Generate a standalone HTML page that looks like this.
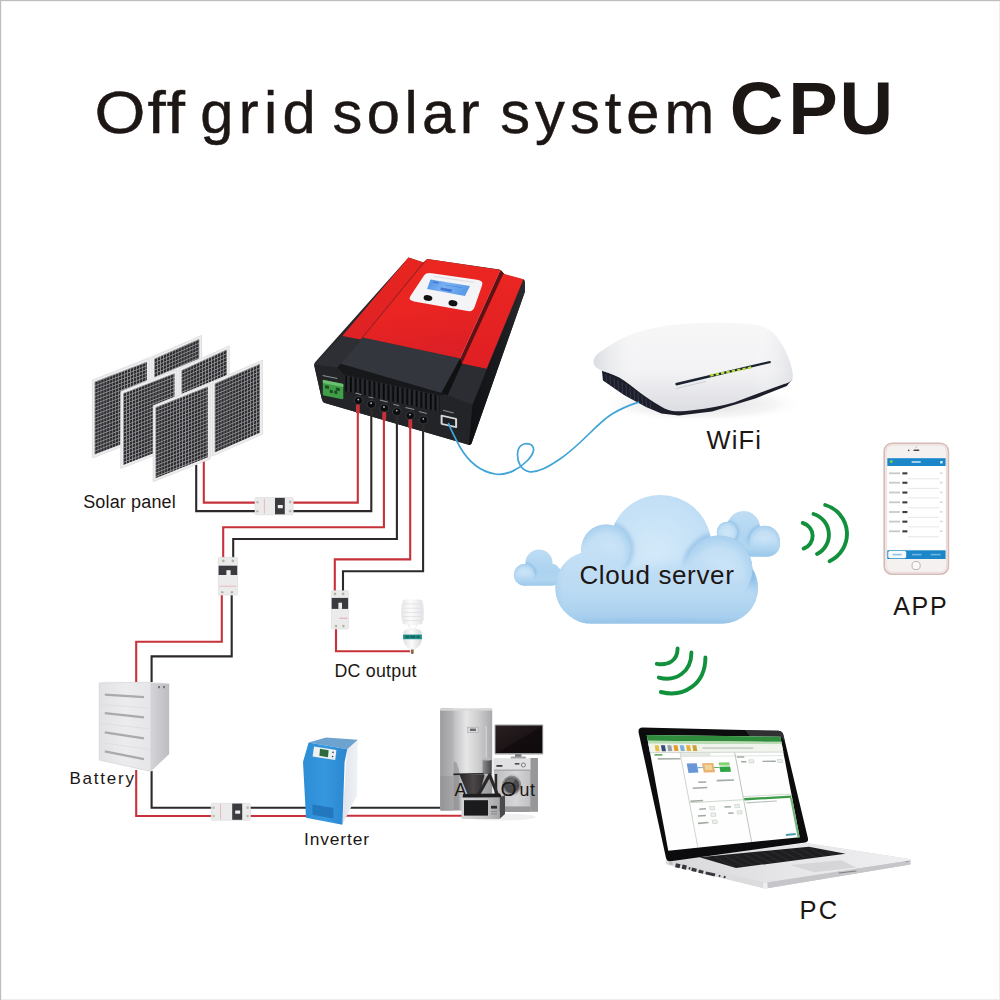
<!DOCTYPE html>
<html><head><meta charset="utf-8">
<style>
html,body{margin:0;padding:0;background:#fff;}
body{width:1000px;height:1000px;overflow:hidden;position:relative;font-family:"Liberation Sans",sans-serif;}
svg{position:absolute;left:0;top:0;display:block;}
text{font-family:"Liberation Sans",sans-serif;fill:#1c1614;}
</style></head><body>
<svg width="1000" height="1000" viewBox="0 0 1000 1000">
<defs>

<linearGradient id="gSide" x1="0" y1="0" x2="1" y2="0"><stop offset="0" stop-color="#0f1012"/><stop offset=".6" stop-color="#1b1c1f"/><stop offset="1" stop-color="#2a2b2e"/></linearGradient>
<linearGradient id="gRedL" x1="0" y1="0" x2="0" y2="1"><stop offset="0" stop-color="#e8251f"/><stop offset="1" stop-color="#de2226"/></linearGradient>
<linearGradient id="gRedC" x1="0" y1="0" x2="0.2" y2="1"><stop offset="0" stop-color="#ec2720"/><stop offset=".6" stop-color="#e92422"/><stop offset="1" stop-color="#dc2026"/></linearGradient>
<linearGradient id="gRedR" x1="0" y1="0" x2="0" y2="1"><stop offset="0" stop-color="#ea2622"/><stop offset="1" stop-color="#e01f24"/></linearGradient>
<linearGradient id="gLcd" x1="0" y1="0" x2="1" y2="0.3"><stop offset="0" stop-color="#4f8fe6"/><stop offset=".5" stop-color="#7cb2f2"/><stop offset="1" stop-color="#5c9bea"/></linearGradient>
<pattern id="pVent" x="0" y="0" width="4.7" height="20" patternUnits="userSpaceOnUse"><rect x="1.6" y="0" width="2" height="20" rx=".8" fill="#08080a"/></pattern>

<pattern id="pCell" x="2.4" y="2.6" width="2.95" height="3.62" patternUnits="userSpaceOnUse"><rect x="0" y="0" width="2.95" height="3.62" fill="#2c2c2f"/><rect x="0" y="0" width="2.95" height=".85" fill="#97979b"/><rect x="0" y="0" width=".64" height="3.62" fill="#97979b"/></pattern>
<linearGradient id="gBatFront" x1="0" y1="0" x2="1" y2="0"><stop offset="0" stop-color="#e2e2e5"/><stop offset=".5" stop-color="#ececee"/><stop offset="1" stop-color="#e6e6e9"/></linearGradient>
<linearGradient id="gBatSide" x1="0" y1="0" x2="1" y2="0"><stop offset="0" stop-color="#d4d4d8"/><stop offset="1" stop-color="#bcbcc1"/></linearGradient>
<linearGradient id="gInvFront" x1="0" y1="0" x2="1" y2="0"><stop offset="0" stop-color="#2d8dd6"/><stop offset=".5" stop-color="#3597de"/><stop offset="1" stop-color="#2a86cf"/></linearGradient>
<linearGradient id="gInvSide" x1="0" y1="0" x2="1" y2="0"><stop offset="0" stop-color="#dfe3ea"/><stop offset="1" stop-color="#f0f2f6"/></linearGradient>
<linearGradient id="gBulbBase" x1="0" y1="0" x2="1" y2="0"><stop offset="0" stop-color="#dfe1e3"/><stop offset=".45" stop-color="#fbfbfb"/><stop offset="1" stop-color="#d7d9dc"/></linearGradient>
<linearGradient id="gBulbCoil" x1="0" y1="0" x2="1" y2="0"><stop offset="0" stop-color="#e6e7e9"/><stop offset=".4" stop-color="#fcfcfc"/><stop offset="1" stop-color="#e2e3e6"/></linearGradient>
<linearGradient id="gFridge" x1="0" y1="0" x2="1" y2="0"><stop offset="0" stop-color="#b9b9bb"/><stop offset=".26" stop-color="#bfbfc1"/><stop offset=".5" stop-color="#e6e6e7"/><stop offset=".72" stop-color="#cfcfd1"/><stop offset="1" stop-color="#a9a9ab"/></linearGradient>
<linearGradient id="gFridgeSide" x1="0" y1="0" x2="1" y2="0"><stop offset="0" stop-color="#9c9c9e"/><stop offset="1" stop-color="#b6b6b8"/></linearGradient>
<linearGradient id="gWash" x1="0" y1="0" x2="1" y2="0"><stop offset="0" stop-color="#bdbdc0"/><stop offset=".5" stop-color="#d6d6d8"/><stop offset="1" stop-color="#b5b5b8"/></linearGradient>
<linearGradient id="gTv" x1="0" y1="0" x2="1" y2="1"><stop offset="0" stop-color="#2a2022"/><stop offset=".5" stop-color="#1c1416"/><stop offset=".52" stop-color="#130d0f"/><stop offset="1" stop-color="#0f0a0c"/></linearGradient>
<linearGradient id="gPot" x1="0" y1="0" x2="1" y2="0"><stop offset="0" stop-color="#8d8d90"/><stop offset=".5" stop-color="#6a6a6d"/><stop offset="1" stop-color="#47474a"/></linearGradient>
<linearGradient id="gMicro" x1="0" y1="0" x2="1" y2="0"><stop offset="0" stop-color="#d4d4d6"/><stop offset=".6" stop-color="#c2c2c5"/><stop offset="1" stop-color="#a6a6a9"/></linearGradient>
<radialGradient id="gRShadow" cx=".5" cy=".5" r=".5"><stop offset="0" stop-color="#c9c9cc" stop-opacity=".7"/><stop offset=".7" stop-color="#e6e6e8" stop-opacity=".4"/><stop offset="1" stop-color="#ffffff" stop-opacity="0"/></radialGradient>
<linearGradient id="gRouter" x1="0" y1="0" x2="0" y2="1"><stop offset="0" stop-color="#f7f7f8"/><stop offset=".55" stop-color="#f2f2f4"/><stop offset="1" stop-color="#dcdde2"/></linearGradient>
<linearGradient id="gRouter2" x1="0" y1="0" x2="1" y2="0"><stop offset="0" stop-color="#d5d7dd" stop-opacity=".8"/><stop offset=".25" stop-color="#ffffff" stop-opacity="0"/><stop offset=".8" stop-color="#ffffff" stop-opacity="0"/><stop offset="1" stop-color="#d9dbe0" stop-opacity=".7"/></linearGradient>
<radialGradient id="gCloud" gradientUnits="userSpaceOnUse" cx="655" cy="552" r="105"><stop offset="0" stop-color="#d3e9f9"/><stop offset=".5" stop-color="#c3e0f6"/><stop offset="1" stop-color="#9cc9ec"/></radialGradient>
<linearGradient id="gCloudS" x1="0" y1="0" x2="0" y2="1"><stop offset="0" stop-color="#c6e1f6"/><stop offset="1" stop-color="#9ccaec"/></linearGradient>
<linearGradient id="gFridgeLow" x1="0" y1="0" x2="1" y2="0"><stop offset="0" stop-color="#8e8e90" stop-opacity=".55"/><stop offset=".4" stop-color="#9a9a9c" stop-opacity=".45"/><stop offset="1" stop-color="#8a8a8c" stop-opacity=".5"/></linearGradient>
<linearGradient id="gHood" x1="0" y1="0" x2="1" y2="0"><stop offset="0" stop-color="#2a2728"/><stop offset=".55" stop-color="#4b4748"/><stop offset="1" stop-color="#2e2b2c"/></linearGradient>
<linearGradient id="gLapTop" x1="0" y1="0" x2="1" y2="0"><stop offset="0" stop-color="#d8d8db"/><stop offset=".5" stop-color="#e6e6e8"/><stop offset="1" stop-color="#efeff1"/></linearGradient>
<pattern id="pKeys" x="0" y="0" width="5.2" height="40" patternUnits="userSpaceOnUse" patternTransform="rotate(-62)"><rect x="0" y="0" width=".9" height="40" fill="#6a6a6f"/></pattern>
<filter id="fBlur2" x="-20%" y="-20%" width="140%" height="140%"><feGaussianBlur stdDeviation="1.4"/></filter>
<filter id="fBlur3" x="-20%" y="-20%" width="140%" height="140%"><feGaussianBlur stdDeviation="2.4"/></filter>
<filter id="fBlur5" x="-20%" y="-20%" width="140%" height="140%"><feGaussianBlur stdDeviation="5"/></filter>
<radialGradient id="gBump" cx=".5" cy=".55" r=".55"><stop offset="0" stop-color="#cfe6f8"/><stop offset=".65" stop-color="#c2dff5"/><stop offset="1" stop-color="#a8d0ef"/></radialGradient>
<linearGradient id="gCloudBase" x1="0" y1="0" x2="0" y2="1"><stop offset="0" stop-color="#c6e1f6"/><stop offset=".6" stop-color="#b9daf3"/><stop offset="1" stop-color="#9cc8eb"/></linearGradient>
<linearGradient id="gCloudSB" x1="0" y1="0" x2="0" y2="1"><stop offset="0" stop-color="#b9daf3" stop-opacity="0"/><stop offset=".5" stop-color="#b0d5f1"/><stop offset="1" stop-color="#97c5e9"/></linearGradient>
<clipPath id="cpCloud"><circle cx="660.5" cy="546" r="51"/><circle cx="606" cy="549" r="24.6"/><circle cx="719" cy="569" r="33.4"/><circle cx="591" cy="587.4" r="35.6"/><rect x="556" y="552" width="202" height="71.6" rx="35.8"/></clipPath>
<clipPath id="cpCloudR"><circle cx="743.4" cy="527.6" r="16.6"/><circle cx="764.6" cy="541" r="15.2"/><circle cx="727" cy="532" r="10.2"/><rect x="716.6" y="531" width="63.4" height="25.4" rx="12.7"/></clipPath>
<clipPath id="cpCloudL"><circle cx="539" cy="563.2" r="13.6"/><circle cx="524.4" cy="574.4" r="10.4"/><circle cx="552" cy="572" r="8"/><rect x="514" y="565" width="48" height="20.4" rx="10.2"/></clipPath>
</defs>
<rect x="0" y="0" width="1000" height="1000" fill="#ffffff"/>
<rect x="999" y="0" width="1" height="1000" fill="#ececec"/>
<rect x="0" y="999" width="1000" height="1" fill="#ececec"/>
<rect x="0" y="0" width="1000" height="1" fill="#bebebe"/>
<rect x="0" y="0" width="1" height="1000" fill="#bebebe"/>
<rect x="1" y="1" width="999" height=".5" fill="#e6e6e6"/>
<rect x="1" y="1" width=".5" height="999" fill="#e6e6e6"/>
<!-- TITLE -->
<g id="title">
<text transform="translate(0 132.5) scale(1.1 1)" x="85.8 134.2 151.6" y="0" font-size="59.6" fill="#1a1310" stroke="#1a1310" stroke-width=".45">Off</text>
<text y="132.5" font-size="59.6" fill="#1a1310" stroke="#1a1310" stroke-width=".45"><tspan x="200.2" letter-spacing="5.4">grid</tspan><tspan x="332.6" letter-spacing="4.45">solar</tspan><tspan x="500.2" letter-spacing="5.05">system</tspan></text>
<text y="134" font-size="74.2" font-weight="bold" fill="#1a1310"><tspan x="729.8">C</tspan><tspan x="788.2">P</tspan><tspan x="839.4">U</tspan></text>
</g>
<!-- CONTROLLER -->
<g id="controller">
<!-- silhouette / body black -->
<path d="M408.5 257.6 L423.5 262.6 L427.2 259 L499.5 269.6 L504.8 274.6 L523.8 279.4 Q525.6 281 524.8 292 L471.5 443.5 Q470.5 445.6 467.5 444.4 L325 403 Q322.3 402 321.8 399 L314.2 366 Q313.8 363.5 315.5 361.8 Z" fill="#26282c"/>
<!-- right side face -->
<path d="M523.8 279.4 Q525.6 281 524.8 292 L471.5 443.5 Q470.5 445.6 468.6 444.7 L472.3 405 Z" fill="url(#gSide)"/>
<!-- front face -->
<path d="M314.2 364.5 L337.5 367.6 L343.5 373.5 L439.5 394.5 L445 394.6 L472.3 405 L468.8 444.7 L325 403 Q322.3 402 321.8 399 Z" fill="#222428"/>
<!-- left black top -->
<path d="M342.3 336 L360.6 339.6 L340.5 363.8 L337.5 367.6 L314.2 364.5 Z" fill="#2d2f34"/>
<!-- raised center black top -->
<path d="M362.8 337.4 L459.8 358.4 L441.3 393 L340.5 363.8 Z" fill="#33363c"/>
<!-- raised front lip -->
<path d="M340.5 363.8 L441.3 393 L445 394.6 L439.5 395.2 L343.5 374.2 L337.5 367.6 Z" fill="#17181a"/>
<!-- right strip black top -->
<path d="M462 363.4 L486.6 368.8 L472.6 404.4 L447.6 395.2 Z" fill="#2b2d32"/>
<path d="M460.4 358.6 L462 363.4 L447.6 395.2 L441.3 393 Z" fill="#101113"/>
<!-- vents -->
<g transform="matrix(1 0.21875 0 1 343.5 373.5)">
<rect x="1" y="1.2" width="95" height="16" fill="#2a2c30"/>
<rect x="1" y="1.2" width="95" height="16" fill="url(#pVent)"/>
</g>
<!-- red left -->
<path d="M408.5 257.6 L423.5 262.6 L360.6 339.6 L342.3 336 Z" fill="url(#gRedL)"/>
<!-- groove left -->
<path d="M423.5 262.6 L427.2 259 L362.8 337.4 L360.6 339.6 Z" fill="#b3161c"/>
<!-- red center -->
<path d="M427.2 259 L500.8 270 L460.4 358.6 L362.8 337.4 Z" fill="url(#gRedC)"/>
<path d="M500.4 270.4 L460.2 358.4" stroke="#f4585a" stroke-width=".9" fill="none" opacity=".8"/>
<!-- groove right -->
<path d="M500.8 270 L504.8 274.6 L462.3 365.8 L460.4 358.6 Z" fill="#5e1216"/>
<!-- red right strip -->
<path d="M503.4 273.8 L523.4 279.2 L486.6 368.8 L462 363.4 Z" fill="url(#gRedR)"/>
<!-- display -->
<path d="M432 273.3 L477 279.7 Q484 280.6 482 285.5 L474.6 307 Q473 312 467.5 311 L414 301.5 Q407.6 300.2 410.6 295.8 L424 275.6 Q426 272.4 432 273.3 Z" fill="#f4f4f6"/>
<path d="M430.5 279.5 L470 286 L465 296 L427 289 Z" fill="url(#gLcd)"/>
<g id="lcd-detail" fill="#2f62c4" opacity=".75"><path d="M433.6 281.4 L438.6 282.2 L438.2 283.6 L433.2 282.8 Z"/><path d="M441 287.6 L452 289.6 L451.4 292 L440.4 290 Z"/><path d="M445 284.4 L462 287.2 L461.8 288 L444.8 285.2 Z" opacity=".6"/></g>
<path d="M434 276.4 L474 282.4" stroke="#c9cbd2" stroke-width=".6" fill="none"/>
<ellipse cx="428" cy="298" rx="4.4" ry="2.9" fill="#121214" transform="rotate(8 428 298)"/>
<ellipse cx="453" cy="303.2" rx="4.5" ry="3.1" fill="#121214" transform="rotate(8 453 303)"/>
<!-- green terminal -->
<g transform="matrix(1 0.2 0 1 322.8 379.8)">
<rect x="0" y="0" width="20.5" height="15.5" rx="1" fill="#3f9f47"/>
<rect x="0" y="0" width="20.5" height="3.2" fill="#6cc070"/>
<rect x="2.2" y="5" width="4" height="3" fill="#1d4d22"/><rect x="13" y="5" width="4" height="3" fill="#1d4d22"/>
<rect x="7" y="8.5" width="3" height="3" fill="#1d4d22"/><rect x="11.5" y="8.5" width="3" height="3" fill="#1d4d22"/>
</g>
<!-- connectors -->
<g fill="#0d0d0f" stroke="#3a3c41" stroke-width="1">
<ellipse cx="358.5" cy="400.6" rx="4.4" ry="4"/><ellipse cx="371.3" cy="404.4" rx="4.4" ry="4"/>
<ellipse cx="384.2" cy="408.1" rx="4.4" ry="4"/><ellipse cx="396.9" cy="411.8" rx="4.4" ry="4"/>
<ellipse cx="410.2" cy="415.6" rx="4.4" ry="4"/><ellipse cx="423.5" cy="420" rx="4.4" ry="4"/>
</g>
<g id="conn-hl" fill="#b9bbc0"><circle cx="358.3" cy="399.6" r=".9"/><circle cx="371.1" cy="403.2" r=".9"/><circle cx="384" cy="407" r=".9"/><circle cx="396.7" cy="410.6" r=".9"/><circle cx="410" cy="414.6" r=".9"/><circle cx="423.3" cy="418.8" r=".9"/></g>
<!-- connector labels -->
<g fill="#8d8f94">
<rect x="355.5" y="393.2" width="6" height="1" transform="rotate(14 358 393)"/>
<rect x="368.5" y="397" width="5" height="1" transform="rotate(14 371 397)"/>
<rect x="380" y="400.5" width="8" height="1" transform="rotate(14 384 400)"/>
<rect x="393.5" y="404.4" width="6" height="1" transform="rotate(14 396 404)"/>
<rect x="405.5" y="408" width="9" height="1" transform="rotate(14 410 408)"/>
<rect x="419" y="412" width="8" height="1" transform="rotate(14 423 412)"/>
<rect x="443" y="411" width="11" height="1" transform="rotate(14 448 411)"/>
<rect x="322.5" y="376.5" width="15" height="1" transform="rotate(11 330 377)"/>
</g>
<!-- ethernet -->
<g transform="matrix(1 0.22 0 1 440.6 414.6)">
<rect x="0" y="0" width="16.5" height="10" rx="1" fill="#d6d8d8"/>
<rect x="2" y="1.8" width="12.5" height="6.4" fill="#1c1e22"/>
</g>
</g>
<!-- WIRES -->
<g id="wires" fill="none" stroke-width="2.1" stroke-linejoin="miter">
<g stroke="#c7323a">
<path d="M357.8 405 V502.6 H293"/>
<path d="M203.8 461 V502.6 H256"/>
<path d="M383.9 412 V527.3 H223.2 V558"/>
<path d="M221.8 594 V641.8 H136.2 V682"/>
<path d="M410.2 419 V559.4 H334.8 V592"/>
<path d="M336 628 V651.2 H410"/>
<path d="M136.2 770 V816 H212"/>
<path d="M250 816 H308"/>
<path d="M345.5 815.8 H462"/>
</g>
<g stroke="#2d292a">
<path d="M371.3 409 V511.1 H293"/>
<path d="M196.2 465 V511.1 H256"/>
<path d="M396.9 415 V539 H233.2 V558"/>
<path d="M231.7 594 V656.4 H151.6 V683"/>
<path d="M423.1 423 V571.2 H343 V592"/>
<path d="M151.6 771 V807.7 H212"/>
<path d="M250 807.7 H308"/>
<path d="M349.5 807.8 H444"/>
</g>
<g id="plugs" stroke="none">
<rect x="355.9" y="404.6" width="3.9" height="8.6" rx="1" fill="#c7323a"/><rect x="382.3" y="412" width="3.9" height="8.6" rx="1" fill="#c7323a"/><rect x="408.3" y="419.6" width="3.9" height="8.6" rx="1" fill="#c7323a"/>
<rect x="369.6" y="408.4" width="3.5" height="7" rx="1" fill="#2d292a"/><rect x="395.2" y="415.8" width="3.5" height="7" rx="1" fill="#2d292a"/><rect x="421.4" y="424" width="3.5" height="7" rx="1" fill="#2d292a"/>
</g>
</g>

<!-- BREAKERS -->
<g id="breakers">
<!-- horizontal breaker 1 -->
<g transform="translate(255,497.6)">
<rect x="0" y="0" width="38.2" height="17.2" rx="1.2" fill="#ebebec"/>
<rect x="0" y="0" width="38.2" height="17.2" rx="1.2" fill="none" stroke="#d9d9da" stroke-width=".6"/>
<rect x="20" y="0.3" width="9.8" height="16.4" fill="#3b3a3f"/>
<rect x="22.8" y="7.4" width="5" height="3.2" fill="#eeeeee"/>
<rect x="8.9" y="1" width=".7" height="15" fill="#e8a3a8"/>
<circle cx="2.4" cy="4.6" r="1.3" fill="#bdbcb4"/><circle cx="2.4" cy="13.6" r="1.3" fill="#bdbcb4"/>
<circle cx="35.2" cy="4.4" r="1.4" fill="#bdbcb4"/><circle cx="35.2" cy="13.6" r="1.4" fill="#bdbcb4"/>
</g>
<!-- horizontal breaker 4 -->
<g transform="translate(211.2,803.3)">
<rect x="0" y="0" width="39.2" height="17" rx="1.2" fill="#ebebec"/>
<rect x="0" y="0" width="39.2" height="17" rx="1.2" fill="none" stroke="#d9d9da" stroke-width=".6"/>
<rect x="21" y="0.3" width="10" height="16.2" fill="#3b3a3f"/>
<rect x="24" y="7.2" width="5" height="3.2" fill="#eeeeee"/>
<rect x="9" y="1" width=".7" height="15" fill="#e8a3a8"/>
<circle cx="2.4" cy="4.4" r="1.3" fill="#bdbcb4"/><circle cx="2.4" cy="12.8" r="1.3" fill="#bdbcb4"/>
<circle cx="36.4" cy="4.4" r="1.4" fill="#bdbcb4"/><circle cx="36.4" cy="12.8" r="1.4" fill="#bdbcb4"/>
</g>
<!-- vertical breaker 2 -->
<g transform="translate(218.3,557.3)">
<rect x="0" y="0" width="19.2" height="37.8" rx="1.2" fill="#ebebec"/>
<rect x="0" y="0" width="19.2" height="37.8" rx="1.2" fill="none" stroke="#d9d9da" stroke-width=".6"/>
<rect x="0.3" y="8.4" width="18.6" height="9.3" fill="#3b3a3f"/>
<rect x="8.1" y="12.9" width="4.2" height="4.8" fill="#eeeeee"/>
<rect x="1" y="28.5" width="17" height=".7" fill="#e8a3a8"/>
<circle cx="5" cy="3.6" r="1.4" fill="#b4b5a4"/><circle cx="14.6" cy="3.6" r="1.4" fill="#b4b5a4"/>
<circle cx="4" cy="35" r="1.3" fill="#b4b5a4"/><circle cx="13.6" cy="35" r="1.3" fill="#b4b5a4"/>
</g>
<!-- vertical breaker 3 -->
<g transform="translate(331.4,590.7)">
<rect x="0" y="0" width="17" height="38.3" rx="1.2" fill="#ebebec"/>
<rect x="0" y="0" width="17" height="38.3" rx="1.2" fill="none" stroke="#d9d9da" stroke-width=".6"/>
<rect x="0.3" y="7.2" width="16.4" height="11" fill="#3b3a3f"/>
<rect x="7" y="12" width="3.6" height="6.2" fill="#eeeeee"/>
<rect x="8" y="27" width="8" height="1" fill="#e8a3a8"/>
<circle cx="3.6" cy="3.2" r="1.3" fill="#b4b5a4"/><circle cx="11.8" cy="3.2" r="1.3" fill="#b4b5a4"/>
<circle cx="4.6" cy="35.4" r="1.3" fill="#b4b5a4"/><circle cx="12" cy="35.4" r="1.3" fill="#b4b5a4"/>
</g>
</g>

<!-- SOLAR PANELS -->
<g id="solar">
<path d="M92.3 380.1 L201.6 335.4 L201.6 414.29999999999995 L93.0 458.0 Z" fill="#f1f1f2"/>
<g transform="matrix(1 -0.3842 0 1 92.3 380.1)">
<rect x="0" y="0" width="57.0" height="77.9" fill="#ededee" stroke="#d6d6d8" stroke-width=".6"/>
<rect x="2.4" y="2.6" width="52.2" height="72.7" fill="url(#pCell)"/>
</g>
<g transform="matrix(1 -0.4398 0 1 151.8 357.3)">
<rect x="0" y="0" width="49.8" height="78.9" fill="#ededee" stroke="#d6d6d8" stroke-width=".6"/>
<rect x="2.4" y="2.6" width="45.0" height="73.7" fill="url(#pCell)"/>
</g>
<path d="M120.8 391.5 L229.2 345.9 L229.2 422.9 L120.2 468.5 Z" fill="#f1f1f2"/>
<g transform="matrix(1 -0.3904 0 1 120.8 391.5)">
<rect x="0" y="0" width="56.1" height="77.0" fill="#ededee" stroke="#d6d6d8" stroke-width=".6"/>
<rect x="2.4" y="2.6" width="51.3" height="71.8" fill="url(#pCell)"/>
</g>
<g transform="matrix(1 -0.4560 0 1 179.2 368.7)">
<rect x="0" y="0" width="50.0" height="77.0" fill="#ededee" stroke="#d6d6d8" stroke-width=".6"/>
<rect x="2.4" y="2.6" width="45.2" height="71.8" fill="url(#pCell)"/>
</g>
<path d="M153.2 405.7 L262.4 360.2 L262.4 434.3 L153.2 481.7 Z" fill="#f1f1f2"/>
<g transform="matrix(1 -0.3982 0 1 153.2 405.7)">
<rect x="0" y="0" width="57.0" height="76.0" fill="#ededee" stroke="#d6d6d8" stroke-width=".6"/>
<rect x="2.4" y="2.6" width="52.2" height="70.8" fill="url(#pCell)"/>
</g>
<g transform="matrix(1 -0.4360 0 1 212.4 382.0)">
<rect x="0" y="0" width="50.0" height="74.1" fill="#ededee" stroke="#d6d6d8" stroke-width=".6"/>
<rect x="2.4" y="2.6" width="45.2" height="68.9" fill="url(#pCell)"/>
</g>
</g>
<!-- BATTERY -->
<g id="battery">
<!-- side -->
<path d="M151 682.2 L169.2 683.6 L169.2 754 L151 771.4 Z" fill="url(#gBatSide)"/>
<!-- front -->
<path d="M99.2 683 L151 682.2 L151 771.4 L99.2 760 Z" fill="url(#gBatFront)"/>
<!-- top sliver -->
<path d="M99.2 683 L104 681.4 L168 682.6 L169.2 683.6 L151 682.9 Z" fill="#f4f4f5"/>
<path d="M99.2 683 L151 682.2 L151 771.4 L99.2 760 Z" fill="none" stroke="#cfcfd3" stroke-width=".6"/>
<!-- slots -->
<g stroke="#a9a9ae" stroke-width="2.2" stroke-linecap="butt">
<path d="M104.8 694.6 L144 697.2"/>
<path d="M104.8 713.2 L144 717.4"/>
<path d="M104.8 732.4 L144 738.4"/>
<path d="M104.8 751.4 L144 759.2"/>
</g>
<g stroke="#dcdce0" stroke-width=".8">
<path d="M101 704.5 L150 708.2"/><path d="M101 723.5 L150 728.8"/><path d="M101 742.6 L150 749.6"/>
</g>
<rect x="158" y="686" width="2" height="2.2" fill="#77777c"/><rect x="163" y="686" width="2" height="2.2" fill="#77777c"/>
</g>
<!-- INVERTER -->
<g id="inverter">
<!-- side white -->
<path d="M347 749 L357.8 740 L357 795.6 L342.2 824.8 Z" fill="url(#gInvSide)"/>
<!-- top -->
<path d="M308.6 742.6 L326 737.4 L357.8 739.8 L347.2 749.2 Z" fill="#6fa3cf"/>
<!-- front -->
<path d="M308.6 742.6 L347.2 749.2 L344.6 762 L342.4 824.8 L306 817.8 L303 762 Z" fill="url(#gInvFront)"/>
<!-- panel -->
<path d="M314 746.6 L336.4 750 L335.2 760 L312.6 756.4 Z" fill="#eef1f4"/>
<path d="M320 748.8 L328.6 750.2 L328 757.2 L319.4 755.8 Z" fill="#2c6b3c"/>
<circle cx="333" cy="752.4" r=".8" fill="#345"/><circle cx="332.6" cy="756.6" r=".8" fill="#345"/>
<!-- vent -->
<path d="M312.4 804.4 L333.4 808 L333.2 818.6 L312.6 814.8 Z" fill="#2377bd"/>
</g>
<!-- BULB -->
<g id="bulb">
<rect x="410.9" y="648.6" width="2.8" height="5.4" rx="1" fill="#8a6a48"/>
<path d="M403.2 634 Q403 629.6 408 629 L417 629 Q421.8 629.6 421.8 634 L421.8 640 Q421 646 414.6 649.6 L410.4 649.6 Q404 646 403.2 640 Z" fill="url(#gBulbBase)"/>
<path d="M403.1 634.6 L421.9 634.6 L421.9 639.2 L403.1 639.2 Z" fill="#1f9089"/>
<path d="M405.5 635.6 h3.5 v2.4 h-3.5z M410.2 635.6 h5 v2.4 h-5z M416.6 635.6 h3 v2.4 h-3z" fill="#116a63"/>
<path d="M407 623 L409.4 629.4 L416 629.4 L417.6 623 Z" fill="#ecedee"/>
<rect x="409.6" y="624.6" width="6" height="4" fill="#fff"/>
<g fill="url(#gBulbCoil)">
<rect x="402.6" y="599.6" width="20" height="5.2" rx="2.6"/>
<rect x="401.2" y="603.4" width="22.4" height="5.2" rx="2.6"/>
<rect x="401" y="607.6" width="22.8" height="5.2" rx="2.6"/>
<rect x="401" y="611.8" width="22.8" height="5.2" rx="2.6"/>
<rect x="401.4" y="616" width="22.4" height="5.2" rx="2.6"/>
<rect x="402.6" y="620" width="20" height="4.6" rx="2.3"/>
</g>
<g stroke="#dcdde0" stroke-width=".7">
<path d="M402 604 H423"/><path d="M401.6 608.2 H423.4"/><path d="M401.6 612.4 H423.4"/><path d="M401.6 616.6 H423.4"/><path d="M402.4 620.6 H423"/>
</g>
</g>
<!-- APPLIANCES -->
<g id="appliances">
<ellipse cx="500" cy="817" rx="36" ry="3.4" fill="#efeff0"/>
<!-- fridge -->
<rect x="440.2" y="708.6" width="52" height="102" rx="1.5" fill="url(#gFridge)"/>
<rect x="440.2" y="708.6" width="13.5" height="102" rx="1.5" fill="url(#gFridgeSide)"/>
<rect x="440.2" y="708.6" width="52" height="2" fill="#d9d9da"/>
<rect x="440.2" y="776" width="52" height="34.6" fill="url(#gFridgeLow)"/>
<path d="M453.7 762 Q456.4 759 459.4 772 L459.4 810 L453.7 810 Z" fill="#858587" opacity=".55"/>
<rect x="467.6" y="727.2" width="10.6" height="5.4" fill="#d8d8da" stroke="#9d9d9f" stroke-width=".5"/>
<rect x="470" y="728.6" width="6" height="2.4" fill="#6a6a6d"/>
<rect x="485.4" y="726" width="1.6" height="32" fill="#cfcfd1"/>
<!-- washing machine -->
<rect x="493.8" y="758.6" width="44.2" height="53.4" fill="url(#gWash)"/>
<rect x="530.4" y="758" width="7.6" height="53.4" fill="#97979a"/>
<rect x="493.8" y="758.6" width="36.6" height="11.4" fill="#e1e1e3"/>
<rect x="493.8" y="769.6" width="36.6" height="1" fill="#97979a"/>
<rect x="496.4" y="765" width="6" height="1.8" fill="#3c3c3e"/>
<rect x="514.8" y="763" width="4.6" height="1.6" fill="#4a4a4c"/>
<circle cx="523.4" cy="765" r="2" fill="#e9e9ea" stroke="#6d6d70" stroke-width=".9"/>
<rect x="493.8" y="806.4" width="36.6" height="5.6" fill="#98989b"/>
<circle cx="511.6" cy="785.2" r="11.4" fill="#cbcbce"/>
<circle cx="511.6" cy="785.2" r="9.6" fill="#8b8b8e"/>
<circle cx="511.6" cy="785.2" r="7.8" fill="#4a4a4d"/>
<path d="M505.4 781.6 A7.8 7.8 0 0 1 516 778.6 L511.6 785.2 Z" fill="#77777a" opacity=".7"/>
<!-- TV -->
<rect x="515" y="754" width="6.4" height="3" fill="#77777a"/>
<rect x="510.6" y="756.6" width="15.4" height="1.8" rx=".9" fill="#a4a4a7"/>
<rect x="494.6" y="724.6" width="48.6" height="29.8" rx="1" fill="#9a9a9d"/>
<rect x="495.6" y="725.6" width="46.6" height="27.4" fill="url(#gTv)"/>
<!-- pot -->
<path d="M482.6 759.4 Q487 757.6 491.6 759.4 L491.6 774 L482.6 774 Z" fill="url(#gPot)"/>
<ellipse cx="487.1" cy="759.2" rx="4.6" ry="1.3" fill="#b9b9bb"/>
<!-- text AC Out (partly hidden) -->
<text x="454.4" y="795.6" font-size="17.8" fill="#2a2526">A</text>
<text x="500.6" y="795.6" font-size="20.6" fill="#2a2526">O</text>
<text x="519.6" y="795.6" font-size="17.8" fill="#2a2526" letter-spacing=".6">ut</text>
<!-- stove / hood -->
<path d="M453.4 773.6 L483.4 773 L484 774.6 L453.4 775.2 Z" fill="#2a2728"/>
<path d="M459.6 775 L484.6 774.6 L479.6 794.4 L467.6 794.4 Z" fill="url(#gHood)"/>
<path d="M478.4 795 L489.6 775 L497.6 795" fill="none" stroke="#2b2829" stroke-width="3.2" stroke-linejoin="round"/>
<rect x="494.8" y="774" width="2.4" height="21" fill="#2b2829"/>
<path d="M463 794 L500 793.6 L502 797.6 L462.6 798.2 Z" fill="#1f1d1e"/>
<!-- microwave -->
<path d="M499.5 797.8 L505 795 L505 814 L499.5 819 Z" fill="#4a4a4d"/>
<rect x="461.5" y="797.6" width="38" height="21.4" rx=".8" fill="url(#gMicro)"/>
<rect x="464" y="800.2" width="24" height="15.4" fill="#1b1a1c"/>
<rect x="491" y="805.8" width="6" height="2.8" fill="#2b2a2c"/>
<rect x="491" y="811" width="6" height="1" fill="#8a8a8c"/><rect x="491" y="813.4" width="6" height="1" fill="#8a8a8c"/>
</g>
<!-- ROUTER -->
<g id="router">
<!-- soft shadow -->
<ellipse cx="702" cy="404" rx="104" ry="18" fill="url(#gRShadow)"/>
<!-- dark underside -->
<path d="M601.6 368 L603 380.6 L624 394.9 L646 407 L661.4 413.6 L679 415.4 L712 411.4 L756 398.2 L786.8 386.1 L792.4 379 L700 385 Z" fill="#1c1e2a"/>
<g stroke="#42455c" stroke-width=".7">
<path d="M606 374 L606.6 383"/><path d="M610 376 L610.6 385.8"/><path d="M614 378 L614.6 388.4"/><path d="M618 380 L618.6 391.2"/><path d="M622 382 L622.6 393.8"/><path d="M626 384 L626.6 396.4"/><path d="M630 387 L630.6 398.6"/><path d="M634 390 L634.6 400.6"/><path d="M638 393 L638.6 402.8"/><path d="M642 396 L642.6 405"/><path d="M646 399 L646.6 407.2"/><path d="M650 401.6 L650.6 409"/>
</g>
<!-- white top -->
<path d="M593.6 360.6 C595 355 598 353 602 350.7 C609 346 616 341.5 624 337.5 C632 333.5 641 330.7 650.4 328.7 C663 326 676 324.4 690 323.6 C700 323 710 322.7 720.8 322.8 C731 322.9 741 323.3 751.6 324.3 C757 324.9 762 326 767 328.7 C772 331.4 775 334.4 778 338.6 C781.5 343.5 784.5 348.5 786.8 354 C789.4 360 791.4 366 792.3 371.6 C793 376 793 378.6 791.2 380.4 C789.5 382 787.5 382.8 784.6 383.7 L734 402.4 C721 405.8 708 408.4 694.4 410 C688 410.8 681 411.4 674.6 411.2 C670 411 665.5 409.4 661.4 406.8 C656 403.6 651 400.4 646 396.9 C638.5 391.6 631.5 385.8 624 380.4 C618 376.4 611 373.8 604.2 371.6 C598 369.4 593 366.4 593.6 360.6 Z" fill="url(#gRouter)"/>
<path d="M593.6 360.6 C595 355 598 353 602 350.7 C609 346 616 341.5 624 337.5 C632 333.5 641 330.7 650.4 328.7 C663 326 676 324.4 690 323.6 C700 323 710 322.7 720.8 322.8 C731 322.9 741 323.3 751.6 324.3 C757 324.9 762 326 767 328.7 C772 331.4 775 334.4 778 338.6 C781.5 343.5 784.5 348.5 786.8 354 C789.4 360 791.4 366 792.3 371.6 C793 376 793 378.6 791.2 380.4 C789.5 382 787.5 382.8 784.6 383.7 L734 402.4 C721 405.8 708 408.4 694.4 410 C688 410.8 681 411.4 674.6 411.2 C670 411 665.5 409.4 661.4 406.8 C656 403.6 651 400.4 646 396.9 C638.5 391.6 631.5 385.8 624 380.4 C618 376.4 611 373.8 604.2 371.6 C598 369.4 593 366.4 593.6 360.6 Z" fill="url(#gRouter2)"/>
<!-- LED strip -->
<path d="M675.6 383 L769.6 361 Q771.4 361.2 770.6 363 L676.6 385.6 Q674.8 385 675.6 383 Z" fill="#1b2230"/>
<g fill="#b7dc3e" transform="translate(-1 2.5)">
<rect x="711" y="371.6" width="3.4" height="2.4" transform="rotate(-13 712 372)"/>
<rect x="716.4" y="370.5" width="3.4" height="2.4" transform="rotate(-13 718 371)"/>
<rect x="721.8" y="369.5" width="3.4" height="2.4" transform="rotate(-13 723 370)"/>
<rect x="727.2" y="368.4" width="3.4" height="2.4" transform="rotate(-13 729 369)"/>
<rect x="732.6" y="367.4" width="3.4" height="2.4" transform="rotate(-13 734 368)"/>
<rect x="738" y="366.3" width="3.4" height="2.4" transform="rotate(-13 740 367)"/>
<rect x="743.4" y="365.3" width="3.4" height="2.4" transform="rotate(-13 745 366)"/>
<rect x="748.8" y="364.2" width="3.4" height="2.4" transform="rotate(-13 750 365)"/>
</g>
<path d="M676 388.6 L706 381.4" stroke="#bfc3c9" stroke-width=".7"/>
</g>
<!-- BLUE CABLE -->
<path id="cable" d="M448.6 423.6 C452 432 455 438 460 447 C468 461 478 471 495 474 C508 476 520 468 527 461 C534 454 536 447 530 444.2 C524 442 518 446 517.6 453 C517 462 521 470 529 471.6 C538 473 548 467 560 459 C582 444 596 424 612 414 C622 408 630 405 638 402.4" fill="none" stroke="#3fa4d6" stroke-width="1.7" stroke-linecap="round"/>
<!-- CLOUD -->
<g id="cloud">
<!-- small right cloud -->
<g clip-path="url(#cpCloudR)">
<rect x="700" y="500" width="90" height="70" fill="url(#gCloudS)"/>
<circle cx="764.6" cy="541" r="15.6" fill="none" stroke="#86b9e3" stroke-width="2.4" filter="url(#fBlur2)"/>
<circle cx="764.6" cy="541" r="15.2" fill="url(#gBump)"/>
<circle cx="727" cy="532" r="10.6" fill="none" stroke="#86b9e3" stroke-width="2" filter="url(#fBlur2)"/>
<circle cx="727" cy="532" r="10.2" fill="url(#gBump)"/>
<rect x="716" y="538" width="64" height="20" fill="url(#gCloudSB)"/>
</g>
<!-- small left cloud -->
<g clip-path="url(#cpCloudL)">
<rect x="505" y="540" width="70" height="50" fill="url(#gCloudS)"/>
<circle cx="524.4" cy="574.4" r="10.8" fill="none" stroke="#86b9e3" stroke-width="2" filter="url(#fBlur2)"/>
<circle cx="524.4" cy="574.4" r="10.4" fill="url(#gBump)"/>
<rect x="512" y="572" width="54" height="16" fill="url(#gCloudSB)"/>
</g>
<!-- main -->
<g clip-path="url(#cpCloud)">
<rect x="550" y="490" width="215" height="140" fill="url(#gCloud)"/>
<circle cx="606" cy="549" r="25" fill="none" stroke="#7fb3e0" stroke-width="3" filter="url(#fBlur3)"/>
<circle cx="606" cy="549" r="24.6" fill="url(#gBump)"/>
<circle cx="719" cy="569" r="34" fill="none" stroke="#7fb3e0" stroke-width="3.4" filter="url(#fBlur3)"/>
<circle cx="719" cy="569" r="33.4" fill="url(#gBump)"/>
<path d="M556 588 A35 35 0 0 1 626 570 L700 560 L760 590 L760 630 L556 630 Z" fill="url(#gCloudBase)" filter="url(#fBlur5)"/>
<ellipse cx="655" cy="626" rx="100" ry="6" fill="#86b8e2" opacity=".5" filter="url(#fBlur3)"/>
</g>
</g>
<!-- SIGNAL ARCS -->
<g id="signals" fill="none" stroke="#12913d" stroke-width="3.9" stroke-linecap="round">
<path d="M802.8 523 A13.4 13.4 0 0 1 803.6 548.6"/>
<path d="M813.5 514 A21.6 21.6 0 0 1 817 554"/>
<path d="M825.2 505 A30.1 30.1 0 0 1 829.6 561.2"/>
<path d="M677.6 648.4 C677.6 660.6 668 666 656.8 663.8"/>
<path d="M691.4 652.4 C691.4 672 676 682 658.8 677.6"/>
<path d="M705.4 657.4 C705.4 684 684 698 660.8 692"/>
</g>
<!-- PHONE -->
<g id="phone">
<rect x="884.2" y="443.2" width="64.2" height="131" rx="8" fill="#f5f1f1" stroke="#d6bab5" stroke-width="1.6"/>
<rect x="886" y="445" width="60.6" height="127.4" rx="6.6" fill="none" stroke="#eadbd8" stroke-width="1"/>
<rect x="887.3" y="458.2" width="58.3" height="100.8" fill="#ffffff"/>
<rect x="887.3" y="458.2" width="58.3" height="7.8" fill="#1b86c8"/>
<circle cx="891.3" cy="461.6" r="1.5" fill="#7fd04a"/>
<rect x="940.2" y="461" width="2.4" height="2.4" fill="#e8f3fb"/>
<rect x="911.6" y="461" width="9.2" height="2" rx=".6" fill="#9fd0ee"/>
<rect x="889" y="472.4" width="11" height="1.8" fill="#c7c9cc"/>
<rect x="902.4" y="472.3" width="5" height="2.1" fill="#3b3d40"/>
<rect x="940" y="472.4" width="2.4" height="1.6" fill="#d4d6d9"/>
<rect x="889" y="481.8" width="11" height="1.8" fill="#c7c9cc"/>
<rect x="902.4" y="481.7" width="5" height="2.1" fill="#3b3d40"/>
<rect x="940" y="481.8" width="2.4" height="1.6" fill="#d4d6d9"/>
<rect x="889" y="491.6" width="11" height="1.8" fill="#c7c9cc"/>
<rect x="902.4" y="491.5" width="5" height="2.1" fill="#3b3d40"/>
<rect x="940" y="491.6" width="2.4" height="1.6" fill="#d4d6d9"/>
<rect x="889" y="501.4" width="11" height="1.8" fill="#c7c9cc"/>
<rect x="902.4" y="501.3" width="5" height="2.1" fill="#3b3d40"/>
<rect x="940" y="501.4" width="2.4" height="1.6" fill="#d4d6d9"/>
<rect x="889" y="511.1" width="11" height="1.8" fill="#c7c9cc"/>
<rect x="902.4" y="511.0" width="5" height="2.1" fill="#3b3d40"/>
<rect x="940" y="511.1" width="2.4" height="1.6" fill="#d4d6d9"/>
<rect x="889" y="520.7" width="11" height="1.8" fill="#c7c9cc"/>
<rect x="902.4" y="520.6" width="5" height="2.1" fill="#3b3d40"/>
<rect x="940" y="520.7" width="2.4" height="1.6" fill="#d4d6d9"/>
<rect x="889" y="530.4" width="11" height="1.8" fill="#c7c9cc"/>
<rect x="902.4" y="530.3" width="5" height="2.1" fill="#3b3d40"/>
<rect x="940" y="530.4" width="2.4" height="1.6" fill="#d4d6d9"/>
<rect x="908" y="478.5" width="31" height=".7" fill="#dadcdf"/>
<rect x="908" y="487.9" width="31" height=".7" fill="#dadcdf"/>
<rect x="908" y="497.6" width="31" height=".7" fill="#dadcdf"/>
<rect x="908" y="507.5" width="31" height=".7" fill="#dadcdf"/>
<rect x="908" y="516.9" width="31" height=".7" fill="#dadcdf"/>
<rect x="908" y="526.6" width="31" height=".7" fill="#dadcdf"/>
<rect x="908" y="536.5" width="31" height=".7" fill="#dadcdf"/>
<rect x="887.3" y="550.3" width="58.3" height="8.7" fill="#1b86c8"/>
<rect x="888.2" y="551" width="18" height="7.2" rx="1.6" fill="#f6fafc"/>
<rect x="892.6" y="553.8" width="9" height="1.6" fill="#8fc4e6"/>
<rect x="912" y="553.8" width="9.6" height="1.6" fill="#6fb5e2"/>
<rect x="930.6" y="553.8" width="10" height="1.6" fill="#6fb5e2"/>
<circle cx="916.1" cy="565.6" r="4.1" fill="#fbfafa" stroke="#b9b2b2" stroke-width="1"/>
<rect x="913.4" y="449.6" width="6" height="1.4" rx=".7" fill="#4a4748"/>
<circle cx="908.7" cy="450.4" r=".8" fill="#4a4748"/>
<circle cx="916.2" cy="447" r=".5" fill="#77777a"/>
</g>
<!-- LAPTOP -->
<g id="laptop">
<path d="M665.8 860.6 L807.5 843.2 L909.6 859 Q911.4 859.8 910.6 861.8 L910.4 864.6 L765.6 888.4 Q763.6 888.6 762 887.8 L667.4 864.6 Q665.4 863.6 665.8 860.6 Z" fill="#d2d2d5"/>
<path d="M665.8 860.4 L807.5 843.2 L909.6 859 Q911 859.8 909.6 860.6 L766.4 882.6 Q764.8 882.8 763 882.4 Z" fill="url(#gLapTop)"/>
<path d="M665.8 860.8 L763.4 882.6 L763 888 L667.4 864.8 Z" fill="#dcdcdf"/>
<path d="M767.4 882.6 L910.4 860.6 L910.4 864.6 L767.6 888.2 Z" fill="#c6c6ca"/>
<path d="M763.4 882.6 L767.4 882.6 L767.6 888.2 L763 888 Z" fill="#efeff1"/>
<path d="M699.5 857.2 L808.9 846.7 L845.6 853.8 L736 868 Z" fill="#1e1e21"/>
<path d="M703 857.6 L808.4 847.6 L842 853.9 L736.2 867 Z" fill="url(#pKeys)" opacity=".2"/>
<path d="M790 865.1 L841.3 860.2 L856.1 867.6 L814.3 872.2 Z" fill="#d6d6d9"/>
<path d="M838.6 872.4 L856.4 870.4 L856.4 871.6 L838.6 873.6 Z" fill="#7f7f83"/>
<rect x="669.6" y="862" width="3.4" height="2.2" fill="#b9b9bd" transform="rotate(13 669.6 862)"/>
<rect x="676" y="863.2" width="4.6" height="4.2" fill="#38383c" transform="rotate(13 676 863.2)"/>
<rect x="682.6" y="864.6" width="4.4" height="4.2" fill="#38383c" transform="rotate(13 682.6 864.6)"/>
<rect x="689" y="867" width="1.6" height="2.4" fill="#38383c" transform="rotate(13 689 867)"/>
<rect x="692" y="867.6" width="5" height="3.4" fill="#38383c" transform="rotate(13 692 867.6)"/>
<rect x="699" y="869.6" width="4.8" height="3.2" fill="#38383c" transform="rotate(13 699 869.6)"/>
<rect x="706" y="871.4" width="9.6" height="3" fill="#38383c" transform="rotate(13 706 871.4)"/>
<rect x="719" y="874.8" width="1.6" height="2" fill="#38383c" transform="rotate(13 719 874.8)"/>
<rect x="724" y="875.8" width="1.8" height="2.2" fill="#38383c" transform="rotate(13 724 875.8)"/>
<rect x="905.4" y="861.2" width="3" height="1" fill="#9a9a9e" transform="rotate(-9 906 861)"/>
<path d="M642.6 727.6 L778.6 730.8 Q782.6 731.2 783.4 735 L808 838.6 Q808.6 842 805.2 842.4 L670.6 861.2 Q667 861.6 666 858 L638.6 732.4 Q638 727.6 642.6 727.6 Z" fill="#0c0c0e"/>
<path d="M745 730 L778.6 730.8 Q782.6 731.2 783.4 735 L785 742 L781 737 L750 736.4 Z" fill="#3a3a3d" opacity=".8"/>
<path d="M646.7 735.0 L780.4 736.8 L799.7 837.2 L668.3 850.7 Z" fill="#fdfefd"/>
<path d="M646.7 735.0 L780.4 736.8 L781.4 741.8 L647.8 740.8 Z" fill="#2f8c3c"/>
<path d="M647.8 740.8 L781.4 741.8 L781.8 744.3 L648.3 743.7 Z" fill="#b9dcb4"/>
<path d="M648.3 743.7 L781.8 744.3 L783.3 751.9 L649.9 752.4 Z" fill="#f0f4ec"/>
<path d="M650.0 752.6 L783.3 752.1" stroke="#b8c3b8" stroke-width="0.6" fill="none"/>
<path d="M654.6 745.2 L658.6 745.2 L659.7 751.2 L655.7 751.2 Z" fill="#e2c04a"/>
<path d="M660.9 745.2 L664.9 745.2 L666.0 751.2 L662.0 751.2 Z" fill="#3a4a7a"/>
<path d="M667.2 745.2 L671.2 745.3 L672.3 751.1 L668.3 751.2 Z" fill="#9aa0a8"/>
<path d="M673.4 745.3 L677.4 745.3 L678.5 751.1 L674.5 751.1 Z" fill="#e59a2e"/>
<path d="M679.7 745.3 L683.7 745.3 L684.8 751.1 L680.8 751.1 Z" fill="#7ab0d8"/>
<path d="M686.0 745.3 L690.0 745.3 L691.1 751.1 L687.1 751.1 Z" fill="#e8b03a"/>
<path d="M692.3 745.3 L696.3 745.3 L697.3 751.1 L693.3 751.1 Z" fill="#c9a23a"/>
<path d="M702.4 747.2 L753.1 747.3 L753.4 749.1 L702.7 749.1 Z" fill="#c9cfc9"/>
<path d="M680.8 753.1 L710.1 753.0 L710.7 755.9 L681.3 756.2 Z" fill="#e6ebe6"/>
<path d="M681.4 756.4 L784.0 755.6" stroke="#c5cdc5" stroke-width="0.5" fill="none"/>
<path d="M654.3 754.1 L662.3 754.0 L662.6 755.7 L654.6 755.8 Z" fill="#6fae6f"/>
<path d="M657.7 758.1 L680.3 757.9 L680.6 759.4 L658.0 759.7 Z" fill="#aab3aa"/>
<path d="M680.1 752.8 L697.9 847.7" stroke="#b9c4b9" stroke-width="0.7" fill="none"/>
<path d="M734.7 752.6 L751.7 842.1" stroke="#a9b6a9" stroke-width="0.8" fill="none"/>
<path d="M690.1 802.7 L743.7 799.7" stroke="#b9c4b9" stroke-width="0.7" fill="none"/>
<path d="M743.1 796.6 L791.4 794.0" stroke="#b9c4b9" stroke-width="0.6" fill="none"/>
<path d="M744.0 798.1 L791.0 795.6 L791.5 797.8 L744.5 800.4 Z" fill="#3c9a48"/>
<path d="M790.0 797.9 L792.1 797.7 L799.7 837.2 L797.6 837.4 Z" fill="#6fb578"/>
<path d="M746.2 802.3 L776.6 800.5 L776.8 801.6 L746.4 803.4 Z" fill="#b9c2b9"/>
<path d="M686.7 763.4 L696.7 763.2 L698.5 772.6 L688.5 772.9 Z" fill="#6a96d8"/>
<path d="M697.5 767.3 L702.8 767.2 L703.0 768.1 L697.6 768.2 Z" fill="#4e9ad8"/>
<path d="M702.0 763.2 L713.3 763.0 L715.1 772.2 L703.8 772.5 Z" fill="#ebb070"/>
<path d="M704.3 764.8 L711.6 764.7 L712.7 770.1 L705.4 770.3 Z" fill="#f0d59a"/>
<path d="M714.1 767.0 L719.4 766.9 L719.6 767.8 L714.3 767.9 Z" fill="#4aa85a"/>
<path d="M718.6 762.4 L729.2 762.2 L729.8 765.4 L719.2 765.6 Z" fill="#86d172"/>
<path d="M719.4 766.7 L730.0 766.5 L731.0 771.8 L720.4 772.1 Z" fill="#2fa442"/>
<path d="M698.1 781.6 L706.1 781.3 L706.4 782.8 L698.4 783.1 Z" fill="#a3aaa3"/>
<path d="M716.5 779.8 L733.8 779.3 L734.1 780.8 L716.8 781.4 Z" fill="#a3aaa3"/>
<path d="M692.6 787.4 L707.1 786.8 L707.4 788.3 L692.8 788.9 Z" fill="#a3aaa3"/>
<path d="M690.3 800.4 L702.9 799.8 L703.2 801.3 L690.6 802.0 Z" fill="#a3aaa3"/>
<path d="M736.8 756.3 L744.1 756.2 L744.4 757.7 L737.0 757.8 Z" fill="#a3aaa3"/>
<path d="M741.0 761.0 L746.3 760.9 L746.6 762.4 L741.3 762.5 Z" fill="#a3aaa3"/>
<path d="M762.3 760.7 L775.6 760.5 L775.9 761.9 L762.6 762.1 Z" fill="#a3aaa3"/>
<path d="M699.2 808.4 L705.8 808.0 L706.1 809.5 L699.5 810.0 Z" fill="#a3aaa3"/>
<path d="M697.8 815.3 L705.7 814.7 L706.0 816.3 L698.1 816.8 Z" fill="#a3aaa3"/>
<path d="M697.8 822.6 L708.4 821.8 L708.7 823.3 L698.1 824.2 Z" fill="#a3aaa3"/>
<path d="M724.2 806.3 L730.8 805.9 L731.1 807.4 L724.5 807.8 Z" fill="#a3aaa3"/>
<path d="M728.1 812.6 L733.4 812.3 L733.6 813.8 L728.4 814.1 Z" fill="#a3aaa3"/>
<path d="M709.6 806.6 L714.2 806.4 L714.8 809.6 L710.2 809.9 Z" fill="#eef1ee" stroke="#a9b3a9" stroke-width=".4"/>
<path d="M710.8 813.2 L715.4 812.9 L716.0 816.2 L711.4 816.5 Z" fill="#eef1ee" stroke="#a9b3a9" stroke-width=".4"/>
<path d="M712.1 820.4 L716.8 820.0 L717.4 823.3 L712.8 823.7 Z" fill="#eef1ee" stroke="#a9b3a9" stroke-width=".4"/>
<path d="M734.6 804.6 L739.2 804.3 L739.8 807.5 L735.2 807.8 Z" fill="#eef1ee" stroke="#a9b3a9" stroke-width=".4"/>
<path d="M737.1 810.9 L741.7 810.6 L742.3 813.8 L737.7 814.1 Z" fill="#eef1ee" stroke="#a9b3a9" stroke-width=".4"/>
<path d="M748.8 759.8 L753.4 759.8 L754.0 762.9 L749.4 763.0 Z" fill="#eef1ee" stroke="#a9b3a9" stroke-width=".4"/>
<path d="M777.4 759.5 L782.1 759.4 L782.7 762.4 L778.0 762.5 Z" fill="#eef1ee" stroke="#a9b3a9" stroke-width=".4"/>
<path d="M785.7 834.0 L795.5 833.0 L795.9 835.0 L786.1 836.0 Z" fill="#4a9ab0"/>
</g>
<!-- LABELS -->
<g id="labels">
<text x="83.2" y="507.6" font-size="18" textLength="92.5" lengthAdjust="spacing" fill="#2a2a2a">Solar panel</text>
<text x="334.5" y="677" font-size="17.8" textLength="82" lengthAdjust="spacing" fill="#2a2a2a">DC output</text>
<text x="69.5" y="784" font-size="17" textLength="64.5" lengthAdjust="spacing" fill="#2a2a2a">Battery</text>
<text x="304" y="845.4" font-size="17.4" textLength="65" lengthAdjust="spacing" fill="#2a2a2a">Inverter</text>
<text x="706.5" y="449.4" font-size="25.5" textLength="54.5" lengthAdjust="spacing" fill="#1c1614">WiFi</text>
<text x="579.4" y="583.6" font-size="26" textLength="154.4" lengthAdjust="spacing" fill="#111418">Cloud server</text>
<text x="893.2" y="615" font-size="25" textLength="53.5" lengthAdjust="spacing" fill="#1c1614">APP</text>
<text x="799.6" y="918.6" font-size="25.5" textLength="37.5" lengthAdjust="spacing" fill="#1c1614">PC</text>
</g>
</svg>
</body></html>
